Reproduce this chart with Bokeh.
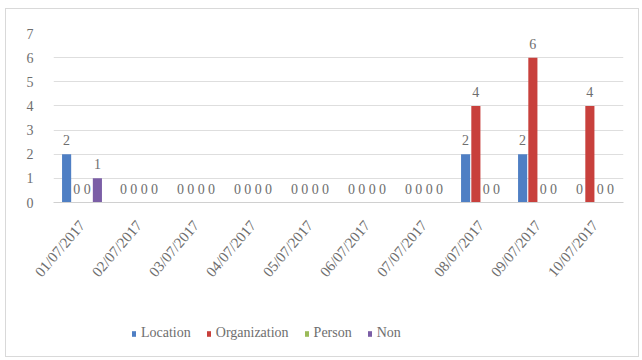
from bokeh.plotting import figure
from bokeh.layouts import column
from bokeh.models import ColumnDataSource, Legend, LegendItem
from bokeh.transform import dodge
from bokeh.core.properties import value
from bokeh.embed import file_html
from bokeh.resources import INLINE

dates = ["01/07/2017", "02/07/2017", "03/07/2017", "04/07/2017", "05/07/2017",
         "06/07/2017", "07/07/2017", "08/07/2017", "09/07/2017", "10/07/2017"]
location = [2, 0, 0, 0, 0, 0, 0, 2, 2, 0]
organization = [0, 0, 0, 0, 0, 0, 0, 4, 6, 4]
person = [0, 0, 0, 0, 0, 0, 0, 0, 0, 0]
non = [1, 0, 0, 0, 0, 0, 0, 0, 0, 0]
y_ticks = [0, 1, 2, 3, 4, 5, 6, 7]

series = [
    ("Location", location, "#4f7fc4", -0.27),
    ("Organization", organization, "#c8403c", -0.09),
    ("Person", person, "#9bbb59", 0.09),
    ("Non", non, "#7b5ea6", 0.27),
]

FONT = "Liberation Serif"
GRAY = "#6e6e6e"

# main bar chart
p = figure(x_range=dates, y_range=(0, 7),
           width=632, height=290,
           frame_width=570, frame_height=169,
           min_border_left=47, min_border_right=15,
           min_border_top=24, min_border_bottom=97,
           output_backend="svg", toolbar_location=None)
p.outline_line_color = None
p.background_fill_color = "white"
p.border_fill_color = "white"

# legend strip under the chart
lg = figure(width=632, height=57, x_range=(0, 1), y_range=(0, 1),
            x_axis_type=None, y_axis_type=None,
            min_border=0, output_backend="svg", toolbar_location=None)
lg.outline_line_color = None
lg.grid.visible = False
lg.background_fill_color = "white"
lg.border_fill_color = "white"

items = []
for name, vals, color, off in series:
    src = ColumnDataSource(dict(date=dates, val=vals, lbl=[str(v) for v in vals]))
    p.vbar(x=dodge("date", off, range=p.x_range), top="val", width=0.16,
           source=src, fill_color=color, line_color=None)
    p.text(x=dodge("date", off, range=p.x_range), y="val", text="lbl", source=src,
           text_align="center", text_baseline="bottom", y_offset=-9,
           text_font=value(FONT), text_font_size="14px", text_color=GRAY)
    # zero-height swatch glyph: only its legend entry is visible
    swatch = lg.vbar(x=[0.5], top=[0], bottom=[0], width=0.01,
                     fill_color=color, line_color=None)
    items.append(LegendItem(label=name, renderers=[swatch]))

# axes
p.yaxis.ticker = y_ticks
p.yaxis.axis_line_color = None
p.yaxis.major_tick_line_color = None
p.yaxis.minor_tick_line_color = None
p.yaxis.major_label_standoff = 14
p.yaxis.major_label_text_font = FONT
p.yaxis.major_label_text_font_size = "14px"
p.yaxis.major_label_text_color = GRAY

p.xaxis.axis_line_color = "#d0d0d0"
p.xaxis.major_tick_line_color = None
p.xaxis.major_label_orientation = 0.87
p.xaxis.major_label_standoff = 14
p.xaxis.major_label_text_font = FONT
p.xaxis.major_label_text_font_size = "15px"
p.xaxis.major_label_text_color = GRAY

p.xgrid.grid_line_color = None
p.ygrid.grid_line_color = "#dedede"
p.x_range.range_padding = 0

legend = Legend(items=items, orientation="horizontal", location=(78, 15))
legend.border_line_color = None
legend.background_fill_alpha = 0
legend.padding = 0
legend.margin = 0
legend.spacing = 15
legend.glyph_width = 5
legend.glyph_height = 7
legend.label_standoff = 5
legend.label_text_font = FONT
legend.label_text_font_size = "14px"
legend.label_text_color = GRAY
lg.add_layout(legend, "center")

layout = column(p, lg, spacing=0)
layout.margin = (8, 5, 5, 5)
layout.styles = {"border": "1px solid #d9d9d9", "background": "white"}

open("out.html", "w").write(file_html(layout, INLINE))
